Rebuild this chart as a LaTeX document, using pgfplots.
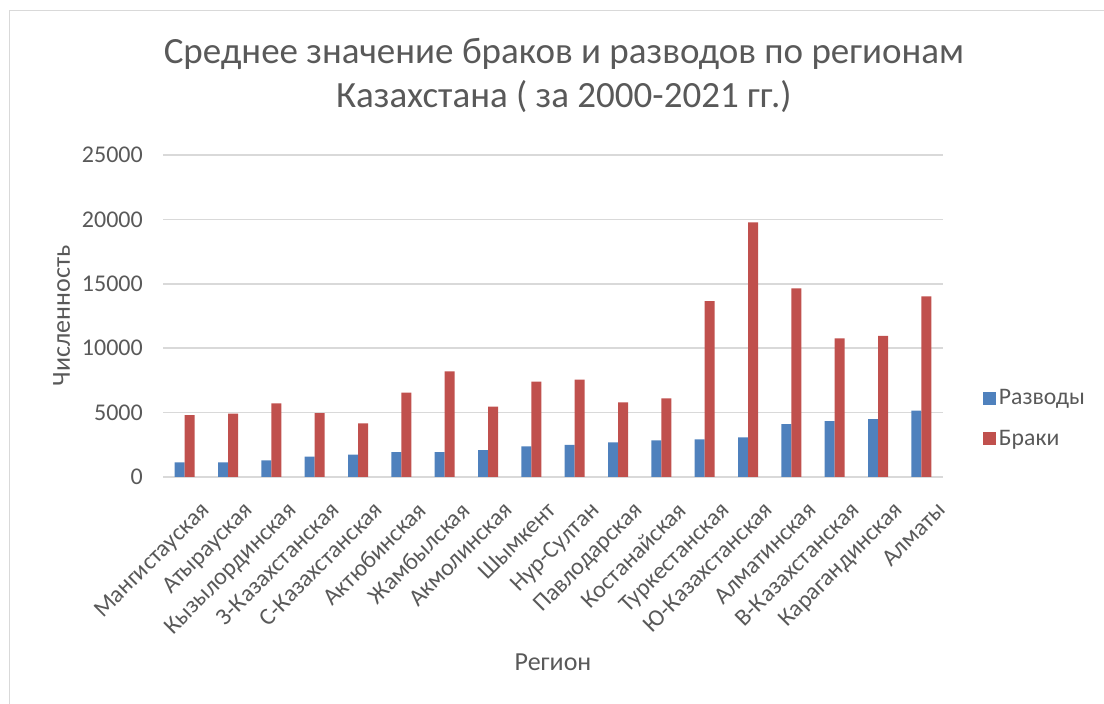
\documentclass[border=0pt]{standalone}
\usepackage{fontspec}
\setmainfont{Carlito}
\usepackage{pgfplots}
\pgfplotsset{compat=1.18}

\definecolor{razv}{HTML}{4F81BD}
\definecolor{brak}{HTML}{C0504D}
\definecolor{txt}{HTML}{595959}
\definecolor{grd}{HTML}{D9D9D9}

\begin{document}
\begin{tikzpicture}
\path[use as bounding box] (0,0) rectangle (1104pt,704pt);
% chart frame (only left and top edges fall inside the picture)
\draw[grd, line width=1.5pt] (9.5pt,0) -- (9.5pt,693.5pt) -- (1104pt,693.5pt);

\begin{axis}[
    at={(163pt,227pt)}, anchor=south west,
    scale only axis,
    width=780pt, height=322pt,
    ybar=0pt, bar width=10pt,
    xmin=-0.5, xmax=17.5,
    ymin=0, ymax=25000,
    ytick={0,5000,10000,15000,20000,25000},
    scaled y ticks=false,
    xtick={0,...,17},
    xticklabels={Мангистауская, Атырауская, Кызылординская, З-Казахстанская,
        С-Казахстанская, Актюбинская, Жамбылская, Акмолинская, Шымкент,
        Нур-Султан, Павлодарская, Костанайская, Туркестанская, Ю-Казахстанская,
        Алматинская, В-Казахстанская, Карагандинская, Алматы},
    axis lines*=left,
    y axis line style={draw=none},
    x axis line style={draw=grd, line width=1.5pt},
    major tick length=0pt,
    ymajorgrids,
    grid style={draw=grd, line width=1.5pt},
    /pgf/number format/1000 sep={},
    /pgf/number format/assume math mode=true,
    tick label style={font=\fontsize{24}{28}\selectfont, text=txt},
    yticklabel style={inner sep=0pt, xshift=-20pt},
    xticklabel style={rotate=45, anchor=north east, inner sep=0pt, xshift=-6pt, yshift=-27pt},
    ylabel={Численность},
    xlabel={Регион},
    label style={font=\fontsize{26}{31}\selectfont, text=txt},
    ylabel style={at={(axis description cs:-0.13,0.5)}, anchor=center},
    xlabel style={at={(axis description cs:0.5,-0.575)}, anchor=center},
    title={Среднее значение браков и разводов по регионам\\Казахстана ( за 2000-2021 гг.)},
    title style={at={(axis description cs:0.514,1.227)}, anchor=center, align=center,
        font=\fontsize{37}{44}\selectfont, text=txt},
    legend style={at={(rel axis cs:1.051,0.182)}, anchor=west, draw=none, fill=none,
        inner sep=0pt, row sep=18pt, font=\fontsize{23.7}{28}\selectfont, text=txt,
        nodes={inner sep=3pt}},
    legend cell align=left,
    legend image code/.code={\fill[#1] (0pt,-6.5pt) rectangle (13pt,6.5pt);},
]
\addplot[fill=razv, draw=none] coordinates {
    (0,1140) (1,1140) (2,1290) (3,1580) (4,1735) (5,1940) (6,1940) (7,2095) (8,2380)
    (9,2485) (10,2690) (11,2845) (12,2920) (13,3080) (14,4110) (15,4345) (16,4500) (17,5145)
};
\addlegendentry{Разводы}
\addplot[fill=brak, draw=none] coordinates {
    (0,4810) (1,4915) (2,5720) (3,4965) (4,4165) (5,6545) (6,8200) (7,5460) (8,7400)
    (9,7555) (10,5795) (11,6105) (12,13660) (13,19760) (14,14640) (15,10760) (16,10965) (17,14020)
};
\addlegendentry{Браки}
\end{axis}
\end{tikzpicture}
\end{document}
